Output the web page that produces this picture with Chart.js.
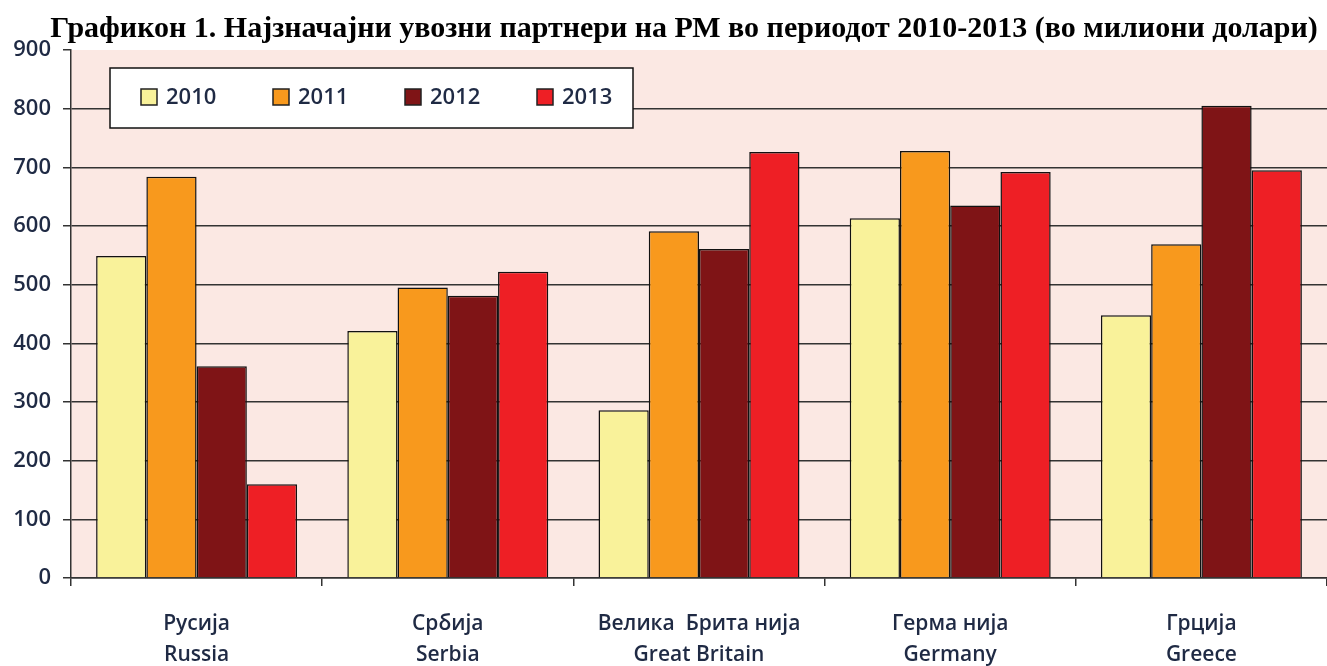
<!DOCTYPE html>
<html lang="mk">
<head>
  <meta charset="UTF-8" />
  <title>Графикон 1</title>
  <script src="https://cdn.jsdelivr.net/npm/chart.js"></script>
  <style>
    body {
      margin: 0;
      padding: 0;
      background: #fff;
    }

    .chart-container {
      width: 1327px;
      height: 666px;
    }
  </style>
</head>
<body>

  <div class="chart-container"><canvas id="importChart"></canvas></div>

  <script>
    const titleText = 'Графикон 1. Најзначајни увозни партнери на РМ во периодот 2010-2013 (во милиони долари)';
    const countriesMk = ['Русија', 'Србија', 'Велика  Брита нија', 'Герма нија', 'Грција'];
    const countriesEn = ['Russia', 'Serbia', 'Great Britain', 'Germany', 'Greece'];
    const years = ['2010', '2011', '2012', '2013'];
    const imports2010 = [549, 421, 286, 613, 448];
    const imports2011 = [684, 495, 591, 728, 569];
    const imports2012 = [361, 481, 561, 635, 805];
    const imports2013 = [160, 522, 726, 692, 695];
    const yTicks = [0, 100, 200, 300, 400, 500, 600, 700, 800, 900];

    const colors = ['#F9F29A', '#F8991D', '#7F1416', '#EE1F25'];
    const textColor = '#1f2a44';
    const lineColor = '#333';

    // plot background, title and the boxed legend inside the plot
    const decorations = {
      id: 'decorations',
      beforeDraw(chart) {
        const { ctx, chartArea } = chart;
        ctx.save();
        ctx.fillStyle = '#FBE8E3';
        ctx.fillRect(chartArea.left, chartArea.top, chartArea.right - chartArea.left, chartArea.bottom - chartArea.top);
        ctx.fillStyle = '#000';
        ctx.font = 'bold 30px "Liberation Serif"';
        ctx.textAlign = 'center';
        ctx.textBaseline = 'alphabetic';
        ctx.fillText(titleText, 684, 37);
        ctx.restore();
      },
      afterDatasetsDraw(chart) {
        const { ctx, chartArea } = chart;
        const bx = chartArea.left + 39;
        const by = chartArea.top + 18;
        ctx.save();
        ctx.fillStyle = '#fff';
        ctx.strokeStyle = '#111';
        ctx.lineWidth = 1.5;
        ctx.fillRect(bx, by, 523, 60);
        ctx.strokeRect(bx, by, 523, 60);
        ctx.font = '600 22px "Open Sans"';
        ctx.textBaseline = 'middle';
        chart.data.datasets.forEach((ds, i) => {
          const x = bx + 31 + i * 132;
          ctx.fillStyle = ds.backgroundColor;
          ctx.fillRect(x, by + 21, 16, 16);
          ctx.strokeStyle = '#222';
          ctx.strokeRect(x, by + 21, 16, 16);
          ctx.fillStyle = textColor;
          ctx.fillText(ds.label, x + 25, by + 30);
        });
        ctx.restore();
      }
    };

    const seriesValues = [imports2010, imports2011, imports2012, imports2013];

    new Chart(document.getElementById('importChart').getContext('2d'), {
      type: 'bar',
      data: {
        labels: countriesMk.map((c, i) => [c, countriesEn[i]]),
        datasets: years.map((y, i) => ({
          label: y,
          data: seriesValues[i],
          backgroundColor: colors[i],
          borderColor: '#111',
          borderWidth: 1.5,
          categoryPercentage: 0.8,
          barPercentage: 1.0
        }))
      },
      options: {
        responsive: true,
        maintainAspectRatio: false,
        animation: false,
        layout: { padding: { top: 50, left: 0, right: 0, bottom: 0 } },
        scales: {
          x: {
            grid: {
              drawOnChartArea: false,
              drawTicks: true,
              tickLength: 8,
              color: lineColor,
              lineWidth: 1.5
            },
            border: { color: lineColor, width: 1.5 },
            ticks: {
              color: textColor,
              padding: 23,
              maxRotation: 0,
              font: { family: '"Open Sans"', size: 21, weight: '600', lineHeight: 1.45 }
            },
            afterFit(scale) { scale.height = 88; }
          },
          y: {
            min: 0,
            max: 900,
            afterBuildTicks(scale) { scale.ticks = yTicks.map(v => ({ value: v })); },
            grid: {
              color: ctx => (ctx.tick && ctx.tick.value === 900 ? 'rgba(0,0,0,0)' : lineColor),
              tickColor: lineColor,
              lineWidth: 1.5,
              tickLength: 8
            },
            border: { color: lineColor, width: 1.5 },
            ticks: {
              color: textColor,
              padding: 12,
              font: { family: '"Open Sans"', size: 22, weight: '600' }
            },
            afterFit(scale) { scale.width = 71; }
          }
        },
        plugins: {
          legend: { display: false },
          tooltip: { enabled: false }
        }
      },
      plugins: [decorations]
    });
  </script>

</body>
</html>
